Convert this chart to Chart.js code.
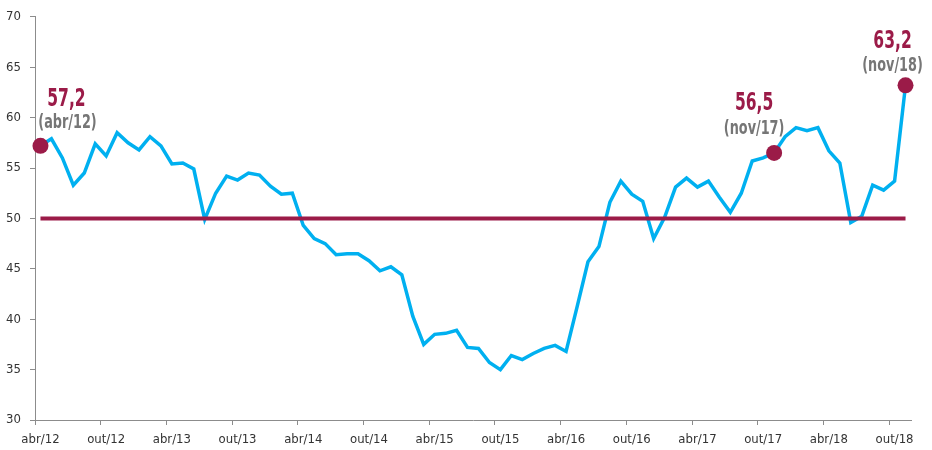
<!DOCTYPE html>
<html>
<head>
<meta charset="utf-8">
<script src="https://cdn.jsdelivr.net/npm/chart.js@4.4.1/dist/chart.umd.min.js"></script>
<style>
html,body{margin:0;padding:0;background:#fff;}
#wrap{width:932px;height:450px;position:relative;}
</style>
</head>
<body>
<div id="wrap"><canvas id="c" width="932" height="450"></canvas></div>
<script>
const categories = [
 'abr/12','mai/12','jun/12','jul/12','ago/12','set/12','out/12','nov/12','dez/12',
 'jan/13','fev/13','mar/13','abr/13','mai/13','jun/13','jul/13','ago/13','set/13','out/13','nov/13','dez/13',
 'jan/14','fev/14','mar/14','abr/14','mai/14','jun/14','jul/14','ago/14','set/14','out/14','nov/14','dez/14',
 'jan/15','fev/15','mar/15','abr/15','mai/15','jun/15','jul/15','ago/15','set/15','out/15','nov/15','dez/15',
 'jan/16','fev/16','mar/16','abr/16','mai/16','jun/16','jul/16','ago/16','set/16','out/16','nov/16','dez/16',
 'jan/17','fev/17','mar/17','abr/17','mai/17','jun/17','jul/17','ago/17','set/17','out/17','nov/17','dez/17',
 'jan/18','fev/18','mar/18','abr/18','mai/18','jun/18','jul/18','ago/18','set/18','out/18','nov/18'
];
const indexValues = [
 57.2,57.9,56.0,53.3,54.5,57.4,56.2,58.5,57.5,56.8,58.1,57.2,55.4,55.5,54.9,49.9,
 52.5,54.2,53.8,54.5,54.3,53.2,52.4,52.5,49.3,48.0,47.5,46.4,46.5,46.5,45.8,44.8,
 45.2,44.4,40.3,37.5,38.5,38.6,38.9,37.2,37.1,35.7,35.0,36.4,36.0,36.6,37.1,37.4,
 36.8,41.2,45.7,47.2,51.6,53.7,52.4,51.7,48.0,50.1,53.1,54.0,53.1,53.7,52.1,50.6,
 52.5,55.7,56.0,56.5,58.1,59.0,58.7,59.0,56.7,55.5,49.6,50.2,53.3,52.8,53.7,63.2
];
const referenceLevel = categories.map(() => 50);
const highlightIndex = [0, 67, 79];
const highlightValueText = ['57,2', '56,5', '63,2'];
const highlightDateText = ['(abr/12)', '(nov/17)', '(nov/18)'];
const yTicks = [30, 35, 40, 45, 50, 55, 60, 65, 70];

const MAROON = '#9b1b48';
const BLUE = '#00b0f0';
const AXIS = '#8c8c8c';
const FONT = '"Liberation Sans Narrow","DejaVu Sans Condensed","Liberation Sans",sans-serif';

const highlightData = categories.map((c, i) => highlightIndex.includes(i) ? indexValues[i] : null);

// label offsets relative to the highlighted point (style only)
const labelOffsets = [
  {vx: 26, vy: -40, dx: 27, dy: -23},
  {vx: -20, vy: -43, dx: -20, dy: -24},
  {vx: -13, vy: -37, dx: -13, dy: -19}
];

function narrowText(ctx, text, x, y, sx) {
  ctx.save();
  ctx.translate(x, y);
  ctx.scale(sx, 1);
  ctx.fillText(text, 0, 0);
  ctx.restore();
}

const annotPlugin = {
  id: 'annot',
  afterDatasetsDraw(chart) {
    const ctx = chart.ctx;
    const xs = chart.scales.x, ys = chart.scales.y;
    ctx.save();
    highlightIndex.forEach((idx, k) => {
      const px = xs.getPixelForValue(idx);
      const py = ys.getPixelForValue(indexValues[idx]);
      const o = labelOffsets[k];
      ctx.textAlign = 'center';
      ctx.textBaseline = 'alphabetic';
      ctx.fillStyle = MAROON;
      ctx.font = 'bold 24px ' + FONT;
      narrowText(ctx, highlightValueText[k], px + o.vx, py + o.vy, 0.72);
      ctx.textBaseline = 'middle';
      ctx.fillStyle = '#767676';
      ctx.font = 'bold 19px ' + FONT;
      narrowText(ctx, highlightDateText[k], px + o.dx, py + o.dy, 0.75);
    });
    ctx.restore();
  }
};

new Chart(document.getElementById('c'), {
  type: 'line',
  data: {
    labels: categories,
    datasets: [
      {
        data: highlightData,
        borderColor: MAROON,
        backgroundColor: MAROON,
        pointRadius: 8,
        pointHoverRadius: 8,
        pointBorderWidth: 0,
        showLine: false,
        order: 0
      },
      {
        data: referenceLevel,
        borderColor: MAROON,
        borderWidth: 4,
        pointRadius: 0,
        tension: 0,
        order: 1
      },
      {
        data: indexValues,
        borderColor: BLUE,
        borderWidth: 3.5,
        pointRadius: 0,
        tension: 0,
        borderJoinStyle: 'miter',
        order: 2
      }
    ]
  },
  options: {
    responsive: false,
    animation: false,
    events: [],
    layout: {padding: {left: 0, right: 21, top: 15, bottom: 0}},
    plugins: {legend: {display: false}, tooltip: {enabled: false}},
    scales: {
      x: {
        type: 'category',
        offset: true,
        afterFit(s) { s.height = 30; },
        grid: {
          offset: true,
          drawOnChartArea: false,
          drawTicks: true,
          tickLength: 5,
          tickWidth: 1,
          tickColor: (c) => (c.index % 6 === 0 ? AXIS : 'rgba(0,0,0,0)')
        },
        border: {color: AXIS, width: 1},
        ticks: {
          autoSkip: false,
          maxRotation: 0,
          minRotation: 0,
          padding: 7,
          color: '#333',
          font: {family: FONT, size: 13},
          callback: (v, i) => (i % 6 === 0 ? categories[i] : '')
        }
      },
      y: {
        min: 30,
        max: 70,
        afterFit(s) { s.width = 35; },
        afterBuildTicks(s) { s.ticks = yTicks.map(v => ({value: v})); },
        grid: {
          drawOnChartArea: false,
          drawTicks: true,
          tickLength: 5,
          tickColor: AXIS
        },
        border: {color: AXIS, width: 1},
        ticks: {
          padding: 9,
          color: '#333',
          font: {family: FONT, size: 13}
        }
      }
    }
  },
  plugins: [annotPlugin]
});
</script>
</body>
</html>
